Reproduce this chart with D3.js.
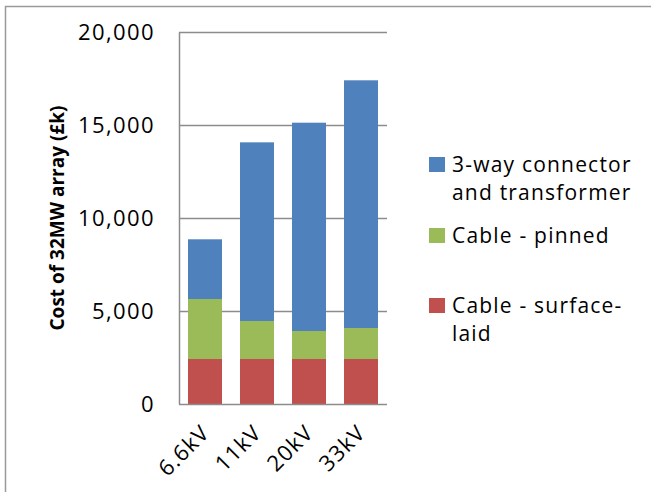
<!DOCTYPE html>
<html>
<head>
<meta charset="utf-8">
<script src="https://cdn.jsdelivr.net/npm/d3@7"></script>
<style>
  body { margin: 0; background: #fff; }
  text { font-family: "Open Sans", sans-serif; fill: #000; }
</style>
</head>
<body>
<div id="chart"></div>
<script>
// Data (values in £k)
const categories = ['6.6kV', '11kV', '20kV', '33kV'];
const cableSurfaceLaid = [2420, 2420, 2420, 2420];
const cablePinned = [3225, 2040, 1505, 1666];
const connectorTransformer = [3210, 9608, 11199, 13317];
const yTicks = [0, 5000, 10000, 15000, 20000];

const seriesKeys = ['surface', 'pinned', 'connector'];
const seriesColors = { surface: '#C0504D', pinned: '#9BBB59', connector: '#4F81BD' };

// Table for d3.stack built from the arrays above
const rows = categories.map((c, i) => ({
    cat: c,
    surface: cableSurfaceLaid[i],
    pinned: cablePinned[i],
    connector: connectorTransformer[i]
}));

const width = 651, height = 492;
const plot = { left: 179, right: 387, top: 32, bottom: 404 };

const svg = d3.select('#chart')
    .append('svg')
    .attr('width', width)
    .attr('height', height);

// outer chart border (right and bottom run off the picture)
svg.append('rect')
    .attr('x', 5.5)
    .attr('y', 6.5)
    .attr('width', 700)
    .attr('height', 600)
    .attr('fill', 'none')
    .attr('stroke', '#9a9a9a')
    .attr('stroke-width', 1.5);

const x = d3.scaleBand()
    .domain(categories)
    .range([plot.left, plot.right])
    .paddingInner(0.346)
    .paddingOuter(0.173);

const y = d3.scaleLinear()
    .domain([0, 20000])
    .range([plot.bottom, plot.top]);

// gridlines
svg.append('g')
    .selectAll('line')
    .data(yTicks.filter(d => d > 0))
    .enter().append('line')
    .attr('x1', plot.left)
    .attr('x2', plot.right)
    .attr('y1', d => Math.round(y(d)) + 0.5)
    .attr('y2', d => Math.round(y(d)) + 0.5)
    .attr('stroke', '#8c8c8c')
    .attr('stroke-width', 1.3);

// stacked bars
const stacked = d3.stack().keys(seriesKeys)(rows);

svg.append('g')
    .selectAll('g')
    .data(stacked)
    .enter().append('g')
    .attr('fill', d => seriesColors[d.key])
    .selectAll('rect')
    .data(d => d)
    .enter().append('rect')
    .attr('x', d => x(d.data.cat))
    .attr('y', d => y(d[1]))
    .attr('width', x.bandwidth())
    .attr('height', d => y(d[0]) - y(d[1]));

// y axis
const yAxis = svg.append('g')
    .attr('transform', `translate(${plot.left},0)`)
    .call(d3.axisLeft(y).tickValues(yTicks).tickFormat(d3.format(',')).tickSize(0).tickPadding(24));

yAxis.select('.domain')
    .attr('stroke', '#8c8c8c')
    .attr('stroke-width', 1.5);

yAxis.selectAll('text')
    .style('font-family', '"Open Sans", sans-serif')
    .style('font-size', '22px')
    .style('letter-spacing', '1.4px')
    .attr('fill', '#000');

// x axis line
svg.append('line')
    .attr('x1', plot.left)
    .attr('x2', plot.right)
    .attr('y1', plot.bottom + 0.5)
    .attr('y2', plot.bottom + 0.5)
    .attr('stroke', '#8c8c8c')
    .attr('stroke-width', 1.5);

// rotated category labels
svg.append('g')
    .selectAll('text')
    .data(categories)
    .enter().append('text')
    .attr('transform', d => `translate(${x(d) + x.bandwidth() / 2 + 6},${plot.bottom + 30}) rotate(-45)`)
    .style('text-anchor', 'end')
    .style('font-size', '22px')
    .style('letter-spacing', '1.2px')
    .text(d => d);

// y axis title
svg.append('text')
    .attr('transform', 'translate(64,218) rotate(-90)')
    .style('text-anchor', 'middle')
    .style('font-size', '19px')
    .style('font-weight', 'bold')
    .text('Cost of 32MW array (£k)');

// legend
const legendItems = [
    { key: 'connector', lines: ['3-way connector', 'and transformer'], base: 172 },
    { key: 'pinned', lines: ['Cable - pinned'], base: 243 },
    { key: 'surface', lines: ['Cable - surface-', 'laid'], base: 313 }
];

const legend = svg.append('g');

legend.selectAll('rect')
    .data(legendItems)
    .enter().append('rect')
    .attr('x', 429)
    .attr('y', d => d.base - 15)
    .attr('width', 16)
    .attr('height', 15)
    .attr('fill', d => seriesColors[d.key]);

legend.selectAll('text')
    .data(legendItems)
    .enter().append('text')
    .attr('x', 452)
    .attr('y', d => d.base)
    .style('font-size', '21px')
    .style('letter-spacing', '1.2px')
    .selectAll('tspan')
    .data(d => d.lines)
    .enter().append('tspan')
    .attr('x', 452)
    .attr('dy', (d, i) => i === 0 ? 0 : 28)
    .text(d => d);
</script>
</body>
</html>
